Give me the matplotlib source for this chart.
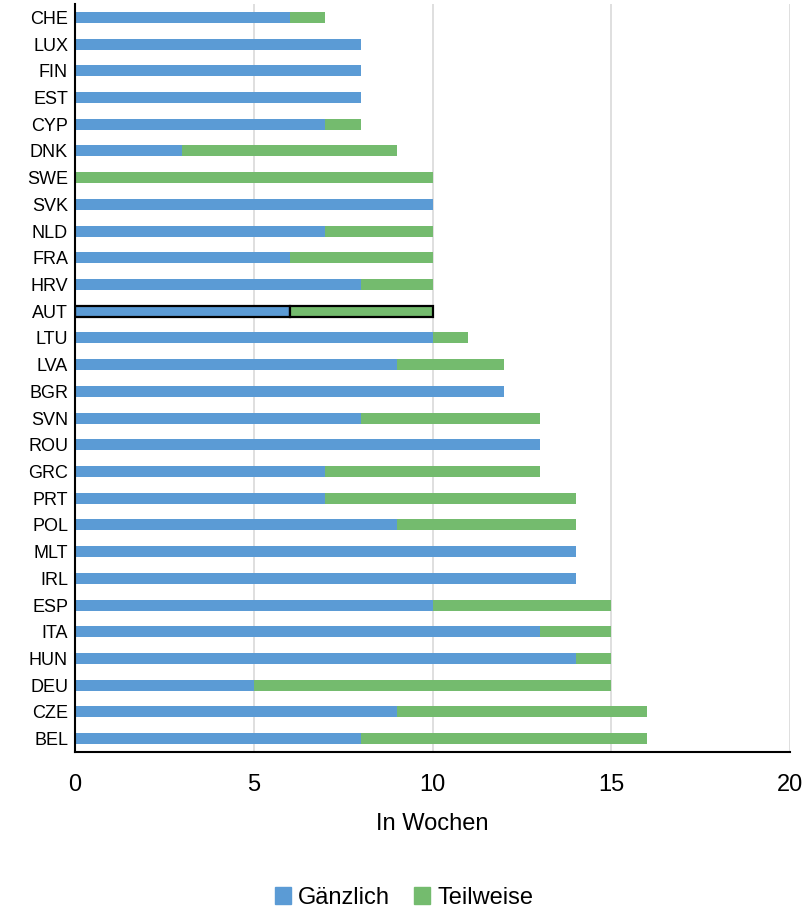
import numpy as np
import matplotlib.pyplot as plt
from matplotlib.patches import Patch

# countries from top to bottom
countries = ["CHE", "LUX", "FIN", "EST", "CYP", "DNK", "SWE", "SVK", "NLD", "FRA",
             "HRV", "AUT", "LTU", "LVA", "BGR", "SVN", "ROU", "GRC", "PRT", "POL",
             "MLT", "IRL", "ESP", "ITA", "HUN", "DEU", "CZE", "BEL"]
gaenzlich = [6, 8, 8, 8, 7, 3, 0, 10, 7, 6,
             8, 6, 10, 9, 12, 8, 13, 7, 7, 9,
             14, 14, 10, 13, 14, 5, 9, 8]
teilweise = [1, 0, 0, 0, 1, 6, 10, 0, 3, 4,
             2, 4, 1, 3, 0, 5, 0, 6, 7, 5,
             0, 0, 5, 2, 1, 10, 7, 8]
x_ticks = [0, 5, 10, 15, 20]

BLUE = "#5B9BD5"
GREEN = "#74BB6E"

plt.rcParams['font.family'] = ['Liberation Sans', 'DejaVu Sans']

fig = plt.figure(figsize=(8.08, 9.13), dpi=100)
ax = fig.add_axes([75/808, 1 - 752/913, 715/808, 748/913])

y = np.arange(len(countries))
h = 0.41
ax.barh(y, gaenzlich, height=h, color=BLUE, zorder=3)
ax.barh(y, teilweise, left=gaenzlich, height=h, color=GREEN, zorder=3)

# highlight Austria
i = countries.index("AUT")
ax.barh(i, gaenzlich[i], height=h, color=BLUE, edgecolor="black", linewidth=1.6, zorder=4)
ax.barh(i, teilweise[i], left=gaenzlich[i], height=h, color=GREEN,
        edgecolor="black", linewidth=1.6, zorder=4)

ax.set_ylim(len(countries) - 0.5, -0.5)
ax.set_xlim(0, 20)
ax.set_yticks(y)
ax.set_yticklabels(countries, fontsize=13)
ax.set_xticks(x_ticks)
ax.set_xticklabels([str(t) for t in x_ticks], fontsize=17)
ax.tick_params(axis='both', length=0)
ax.tick_params(axis='x', pad=16)
ax.tick_params(axis='y', pad=5)

ax.grid(axis='x', color="#D9D9D9", linewidth=1.2, zorder=0)
for s in ["top", "right"]:
    ax.spines[s].set_visible(False)
ax.spines["left"].set_linewidth(1.5)
ax.spines["bottom"].set_linewidth(1.5)
ax.spines["left"].set_zorder(5)

ax.set_xlabel("In Wochen", fontsize=17, labelpad=12)

handles = [Patch(color=BLUE, label="Gänzlich"), Patch(color=GREEN, label="Teilweise")]
fig.legend(handles=handles, loc="center", bbox_to_anchor=(0.5, 1 - 898/913), ncol=2,
           frameon=False, fontsize=17, handlelength=0.7, handleheight=0.7,
           handletextpad=0.3, columnspacing=1.0)

fig.savefig("out.png", dpi=100)
